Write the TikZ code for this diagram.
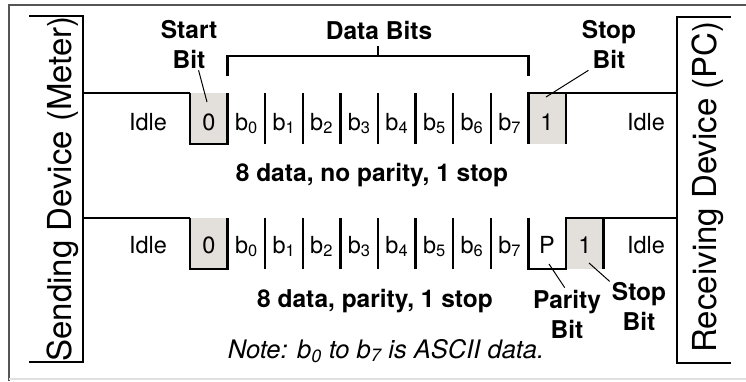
\documentclass[tikz,border=0pt]{standalone}
\usepackage{fontspec}
\setmainfont{TeX Gyre Heros}
\usepackage{tikz}
\usetikzlibrary{positioning}

\definecolor{bitfill}{RGB}{227,224,220}
\definecolor{framegray}{RGB}{85,85,85}

\tikzset{
	sig/.style={line width=2.4pt,line join=miter},
	txt/.style={inner sep=0pt,anchor=base,font=\fontsize{23.5}{26}\selectfont},
	lbl/.style={inner sep=2pt,align=center,font=\fontsize{24.5}{30}\selectfont\bfseries},
	dev/.style={inner sep=0pt,anchor=base,rotate=90,font=\fontsize{33}{36}\selectfont},
	ptr/.style={line width=1pt}
}

\begin{document}
\begin{tikzpicture}[x=1pt,y=-1pt]
	\useasboundingbox (0,0) rectangle (746,381);
	% frame
	\draw[framegray,line width=2pt] (9,381) -- (9,5) -- (746,5);
	\draw[black!12,line width=2pt] (9,379) -- (746,379);

	% devices
	\draw[sig] (29,16) -- (83,16) -- (83,362) -- (29,362);
	\draw[sig] (731,17) -- (677,17) -- (677,363) -- (731,363);
	\node[dev] (sender) at (71,189) {Sending Device (Meter)};
	\node[dev] (receiver) at (716,187) {Receiving Device (PC)};

	% 8 data, no parity, 1 stop
	\draw[sig] (83,93) -- (190,93);
	\draw[sig,fill=bitfill] (190,93) -- (190,144) -- (227.6,144) -- (227.6,93);
	\foreach \k in {2,...,8}
		\draw[sig] (190+37.6*\k,93) -- (190+37.6*\k,144);
	\fill[bitfill] (528.4,93) rectangle (566,144);
	\draw[sig] (528.4,144) -- (528.4,93) -- (677,93);
	\draw[sig] (566,93) -- (566,144);
	\foreach \k in {0,...,7}
		\node[txt] (top-b\k) at (246.4+37.6*\k,130) {b\textsubscript{\k}};
	\node[txt] (top-idle-l) at (148,130) {Idle};
	\node[txt] (top-start) at (209,130) {0};
	\node[txt] (top-stop) at (547,130) {1};
	\node[txt] (top-idle-r) at (646,130) {Idle};

	\draw[sig] (227.6,76) -- (227.6,56) -- (528.4,56) -- (528.4,76);
	\draw[sig] (378,56) -- (378,46);
	\node[lbl,anchor=base] (databits) at (379,39) {Data Bits};

	\node[lbl] (startlbl) at (189,44) {Start\\Bit};
	\coordinate (startpt) at (207,102);
	\draw[ptr] (startlbl.-70) -- (startpt);
	\node[lbl] (stoplbl) at (609,44) {Stop\\Bit};
	\coordinate (stoppt) at (546,97);
	\draw[ptr] (stoplbl.-128) -- (stoppt);
	\node[lbl,anchor=base] (fmt1) at (372,181) {8 data, no parity, 1 stop};

	% 8 data, parity, 1 stop
	\draw[sig] (83,218) -- (190,218);
	\draw[sig,fill=bitfill] (190,218) -- (190,269) -- (227.6,269) -- (227.6,218);
	\foreach \k in {2,...,8}
		\draw[sig] (190+37.6*\k,218) -- (190+37.6*\k,269);
	\fill[bitfill] (566,218) rectangle (603.6,269);
	\draw[sig] (528.4,218) -- (528.4,269) -- (566,269) -- (566,218) -- (677,218);
	\draw[sig] (603.6,218) -- (603.6,269);
	\foreach \k in {0,...,7}
		\node[txt] (bot-b\k) at (246.4+37.6*\k,253) {b\textsubscript{\k}};
	\node[txt] (bot-idle-l) at (148,253) {Idle};
	\node[txt] (bot-start) at (209,253) {0};
	\node[txt] (bot-parity) at (547,253) {P};
	\node[txt] (bot-stop) at (585,253) {1};
	\node[txt] (bot-idle-r) at (646,253) {Idle};

	\node[lbl,anchor=base] (fmt2) at (375,307) {8 data, parity, 1 stop};
	\node[lbl] (paritylbl) at (567,314) {Parity\\Bit};
	\node[lbl] (stoplbl2) at (639,306) {Stop\\Bit};
	\coordinate (paritypt) at (549,264);
	\coordinate (stoppt2) at (589,263);
	\draw[ptr] (paritylbl.95) -- (paritypt);
	\draw[ptr] (stoplbl2.140) -- (stoppt2);

	\node[txt,font=\fontsize{25.5}{28}\selectfont\itshape] (note) at (386,358) {Note: b\textsubscript{0} to b\textsubscript{7} is ASCII data.};
\end{tikzpicture}
\end{document}
